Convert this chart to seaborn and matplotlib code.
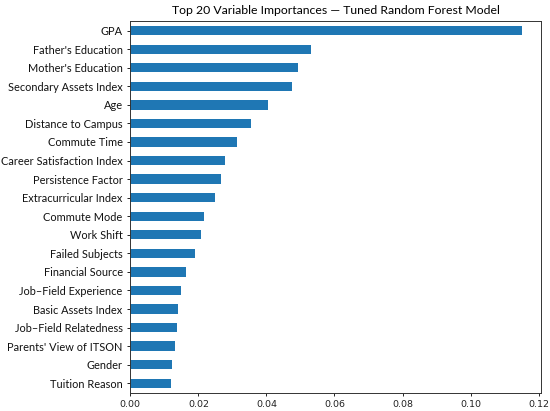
import matplotlib
matplotlib.use("Agg")
import matplotlib.pyplot as plt
import seaborn as sns
import pandas as pd

features = [
    "GPA", "Father's Education", "Mother's Education", "Secondary Assets Index",
    "Age", "Distance to Campus", "Commute Time", "Career Satisfaction Index",
    "Persistence Factor", "Extracurricular Index", "Commute Mode", "Work Shift",
    "Failed Subjects", "Financial Source", "Job\u2013Field Experience",
    "Basic Assets Index", "Job\u2013Field Relatedness", "Parents' View of ITSON",
    "Gender", "Tuition Reason",
]
importances = [
    0.1150, 0.0531, 0.0493, 0.0474, 0.0404, 0.0354, 0.0314, 0.0279,
    0.0267, 0.0249, 0.0217, 0.0209, 0.0189, 0.0165, 0.0150, 0.0140,
    0.0138, 0.0131, 0.0123, 0.0120,
]

df = pd.DataFrame({"feature": features, "importance": importances})

fig = plt.figure(figsize=(5.5, 4.11), dpi=100)
ax = fig.add_axes([0.237, 0.045, 0.747, 0.903])
sns.barplot(data=df, x="importance", y="feature", orient="h",
            color="#1f77b4", saturation=1, width=0.5, ax=ax)
ax.set_xlim(0, max(importances) * 1.05)
ax.set_ylim(len(features) - 0.5, -0.5)
ax.set_xlabel("")
ax.set_ylabel("")
xt = [0, 0.02, 0.04, 0.06, 0.08, 0.10, 0.12]
ax.set_xticks(xt)
ax.set_xticklabels([f"{v:.2f}" for v in xt], fontsize=6.8, color="#222222")
for lab in ax.get_yticklabels():
    lab.set_fontfamily("Lato")
    lab.set_fontsize(7.9)
    lab.set_color("#111111")
ax.tick_params(axis="both", length=2.5, width=0.6, pad=3)
for s in ax.spines.values():
    s.set_linewidth(0.7)
    s.set_color("#333333")
ax.set_title("Top 20 Variable Importances \u2014 Tuned Random Forest Model",
             fontfamily="Lato", fontsize=8.8, pad=5)
fig.savefig("out.png", dpi=100)
